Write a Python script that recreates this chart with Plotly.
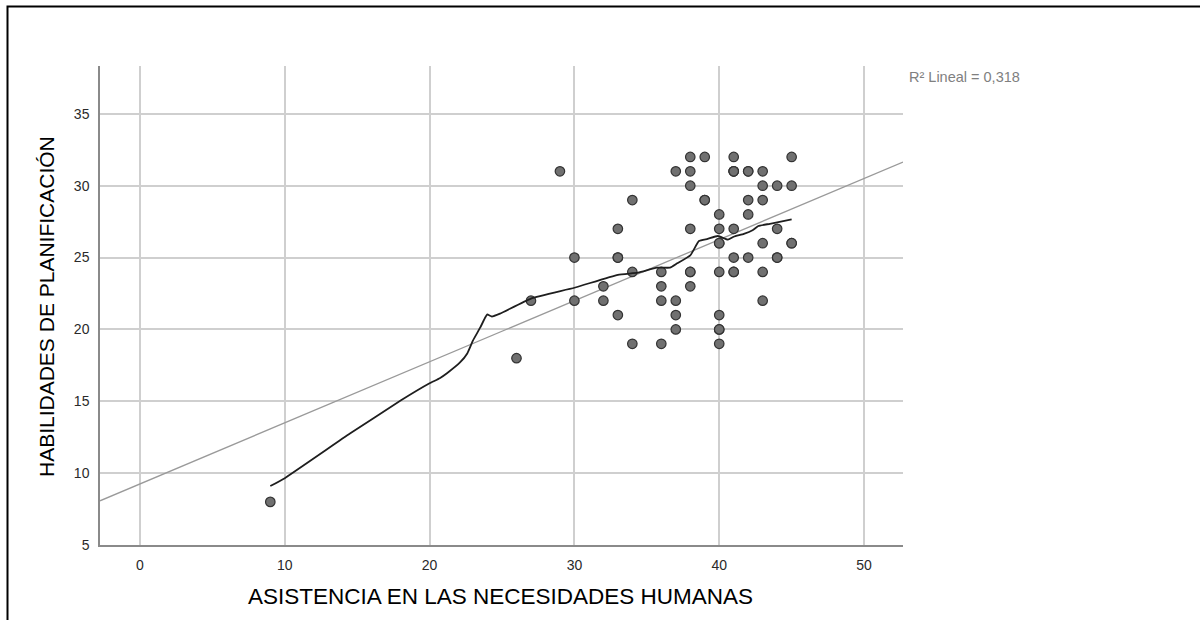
import plotly.graph_objects as go

# ---- data ----
asistencia = [9, 26, 27, 29, 30, 30, 32, 32, 33, 33, 33, 33, 34, 34, 34,
              36, 36, 36, 36, 37, 37, 37, 37, 38, 38, 38, 38, 38, 38, 38,
              39, 39, 39, 40, 40, 40, 40, 40, 40, 40, 40, 40,
              41, 41, 41, 41, 41, 41, 41, 41, 42, 42, 42, 42, 42,
              43, 43, 43, 43, 43, 43, 44, 44, 44, 44, 45, 45, 45, 45]
habilidades = [8, 18, 22, 31, 25, 22, 23, 22, 27, 25, 25, 21, 29, 24, 19,
               24, 23, 22, 19, 31, 22, 21, 20, 32, 31, 30, 27, 24, 23, 24,
               32, 29, 29, 28, 27, 26, 24, 21, 20, 20, 19, 26,
               32, 31, 31, 27, 25, 24, 24, 31, 31, 29, 28, 25, 31,
               31, 30, 29, 26, 24, 22, 30, 27, 25, 25, 32, 30, 26, 26]

# Loess (fit) line
loess_x = [9.0, 10.0, 14.5, 18.0, 20.0, 20.7, 21.2, 22.1, 22.6, 23.0, 23.5,
           23.84, 23.98, 24.3, 24.86, 27.0, 30.0, 33.0, 34.4, 35.7, 36.6,
           37.1, 38.0, 38.6, 39.2, 39.9, 40.6, 41.0, 41.7, 42.3, 42.7, 43.5,
           45.0]
loess_y = [9.1, 9.65, 12.75, 15.05, 16.25, 16.6, 16.95, 17.7, 18.33, 19.24,
           20.14, 20.83, 21.04, 20.9, 21.1, 22.15, 22.9, 23.8, 23.95, 24.3,
           24.3, 24.6, 25.15, 26.15, 26.3, 26.5, 26.25, 26.45, 26.65, 26.9,
           27.2, 27.35, 27.65]

# Linear fit line (R² Lineal = 0,318)
fit_intercept = 9.25
fit_slope = 0.425
r2_label = "R² Lineal = 0,318"

x_range = [-2.76, 52.69]
y_range = [5, 38.33]
x_ticks = [0, 10, 20, 30, 40, 50]
y_ticks = [5, 10, 15, 20, 25, 30, 35]

x_title = "ASISTENCIA EN LAS NECESIDADES HUMANAS"
y_title = "HABILIDADES DE PLANIFICACIÓN"

FONT = "Liberation Sans, Arial, sans-serif"

fig = go.Figure()

fit_x = [x_range[0], x_range[1]]
fit_y = [fit_intercept + fit_slope * v for v in fit_x]
fig.add_trace(go.Scatter(x=fit_x, y=fit_y, mode="lines",
                         line=dict(color="#9a9a9a", width=1.3),
                         hoverinfo="skip", showlegend=False))

fig.add_trace(go.Scatter(x=asistencia, y=habilidades, mode="markers",
                         marker=dict(size=9.5, color="#707070",
                                     line=dict(color="#333333", width=1.2)),
                         showlegend=False))

fig.add_trace(go.Scatter(x=loess_x, y=loess_y, mode="lines",
                         line=dict(color="#1e1e1e", width=1.8, shape="spline",
                                   smoothing=0.4),
                         hoverinfo="skip", showlegend=False))

axis_common = dict(
    showgrid=True, gridcolor="#cfcfcf", gridwidth=1.5,
    zeroline=False, showline=True, linecolor="#8a8a8a", linewidth=1.5,
    ticks="outside", ticklen=6, tickcolor="rgba(0,0,0,0)",
    tickfont=dict(family=FONT, size=14, color="#2a2a2a"),
    fixedrange=True,
)

fig.update_xaxes(range=x_range, tickvals=x_ticks, **axis_common)
fig.update_yaxes(range=y_range, tickvals=y_ticks, **axis_common)

# Plot area: x 100..903, y 66..545
L, R, T, B = 100, 297, 66, 75
W, H = 1200, 620
pw, ph = W - L - R, H - T - B

def px_x(p):
    return (p - L) / pw

def px_y(p):
    return (H - B - p) / ph

fig.update_layout(
    width=W, height=H,
    margin=dict(l=L, r=R, t=T, b=B),
    paper_bgcolor="white", plot_bgcolor="white",
    showlegend=False,
    annotations=[
        dict(text=x_title, xref="paper", yref="paper",
             x=px_x(500), y=px_y(596), xanchor="center", yanchor="middle",
             showarrow=False, font=dict(family=FONT, size=22.5, color="#000000")),
        dict(text=y_title, xref="paper", yref="paper", textangle=-90,
             x=px_x(46), y=px_y(307), xanchor="center", yanchor="middle",
             showarrow=False, font=dict(family=FONT, size=21, color="#000000")),
        dict(text=r2_label, xref="paper", yref="paper",
             x=px_x(907), y=px_y(77), xanchor="left", yanchor="middle",
             showarrow=False, font=dict(family=FONT, size=14.5, color="#808080")),
    ],
    shapes=[
        dict(type="rect", xref="paper", yref="paper",
             x0=px_x(7.5), x1=px_x(1215), y0=px_y(640), y1=px_y(6.5),
             line=dict(color="#000000", width=2), fillcolor="rgba(0,0,0,0)",
             layer="above"),
    ],
)

fig.write_html("out.html")
